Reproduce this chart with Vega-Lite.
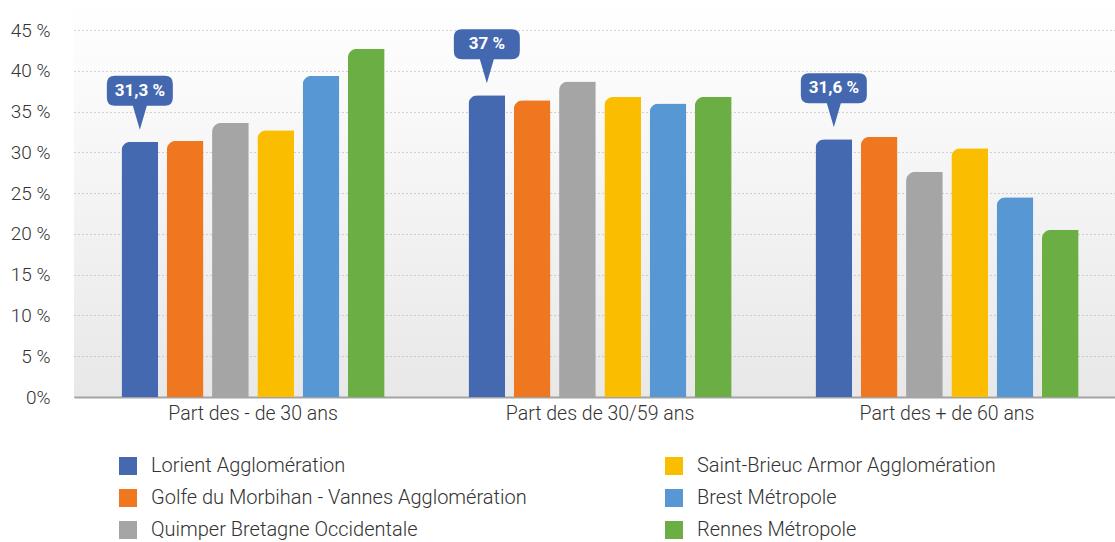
{
  "$schema": "https://vega.github.io/schema/vega-lite/v6.json",
  "width": 1041,
  "height": 397,
  "autosize": {"type": "none"},
  "padding": {"left": 74, "top": 0, "right": 0, "bottom": 145},
  "background": "#ffffff",
  "config": {
    "font": "Roboto",
    "view": {
      "stroke": null,
      "fill": {"gradient": "linear", "x1": 0, "y1": 0, "x2": 0, "y2": 1, "stops": [{"offset": 0, "color": "#ffffff"}, {"offset": 1, "color": "#e8e8e8"}]}
    }
  },
  "data": {
    "values": [
      {"group": "Part des - de 30 ans", "region": "Lorient Agglomération", "value": 31.3, "label": "31,3 %"},
      {"group": "Part des - de 30 ans", "region": "Golfe du Morbihan - Vannes Agglomération", "value": 31.4, "label": ""},
      {"group": "Part des - de 30 ans", "region": "Quimper Bretagne Occidentale", "value": 33.6, "label": ""},
      {"group": "Part des - de 30 ans", "region": "Saint-Brieuc Armor Agglomération", "value": 32.7, "label": ""},
      {"group": "Part des - de 30 ans", "region": "Brest Métropole", "value": 39.4, "label": ""},
      {"group": "Part des - de 30 ans", "region": "Rennes Métropole", "value": 42.7, "label": ""},
      {"group": "Part des de 30/59 ans", "region": "Lorient Agglomération", "value": 37.0, "label": "37 %"},
      {"group": "Part des de 30/59 ans", "region": "Golfe du Morbihan - Vannes Agglomération", "value": 36.4, "label": ""},
      {"group": "Part des de 30/59 ans", "region": "Quimper Bretagne Occidentale", "value": 38.7, "label": ""},
      {"group": "Part des de 30/59 ans", "region": "Saint-Brieuc Armor Agglomération", "value": 36.8, "label": ""},
      {"group": "Part des de 30/59 ans", "region": "Brest Métropole", "value": 36.0, "label": ""},
      {"group": "Part des de 30/59 ans", "region": "Rennes Métropole", "value": 36.8, "label": ""},
      {"group": "Part des + de 60 ans", "region": "Lorient Agglomération", "value": 31.6, "label": "31,6 %"},
      {"group": "Part des + de 60 ans", "region": "Golfe du Morbihan - Vannes Agglomération", "value": 31.9, "label": ""},
      {"group": "Part des + de 60 ans", "region": "Quimper Bretagne Occidentale", "value": 27.6, "label": ""},
      {"group": "Part des + de 60 ans", "region": "Saint-Brieuc Armor Agglomération", "value": 30.5, "label": ""},
      {"group": "Part des + de 60 ans", "region": "Brest Métropole", "value": 24.5, "label": ""},
      {"group": "Part des + de 60 ans", "region": "Rennes Métropole", "value": 20.5, "label": ""}
    ]
  },
  "encoding": {
    "x": {
      "field": "group",
      "type": "nominal",
      "sort": ["Part des - de 30 ans", "Part des de 30/59 ans", "Part des + de 60 ans"],
      "scale": {"paddingInner": 0.2, "paddingOuter": 0.1, "align": 0.58},
      "axis": {
        "title": null,
        "labelAngle": 0,
        "labelFontSize": 19.5,
        "labelFontWeight": 300,
        "labelColor": "#333333",
        "labelPadding": 7,
        "ticks": false,
        "domainColor": "#a3a3a3",
        "domainWidth": 2,
        "labelLimit": 400
      }
    },
    "xOffset": {
      "field": "region",
      "type": "nominal",
      "sort": ["Lorient Agglomération", "Golfe du Morbihan - Vannes Agglomération", "Quimper Bretagne Occidentale", "Saint-Brieuc Armor Agglomération", "Brest Métropole", "Rennes Métropole"],
      "scale": {"paddingInner": 0.19, "paddingOuter": 0.16}
    },
    "y": {
      "field": "value",
      "type": "quantitative",
      "scale": {"domain": [0, 48.68], "nice": false},
      "axis": {
        "title": null,
        "values": [0, 5, 10, 15, 20, 25, 30, 35, 40, 45],
        "labelExpr": "datum.value == 0 ? '0%' : datum.value + ' %'",
        "labelFontSize": 19,
        "labelFontWeight": 300,
        "labelColor": "#333333",
        "labelPadding": 24,
        "ticks": false,
        "domain": false,
        "gridColor": "#a8a8a8",
        "gridDash": [1, 3],
        "gridWidth": 1
      }
    }
  },
  "layer": [
    {
      "mark": {"type": "bar", "cornerRadiusTopLeft": 9},
      "encoding": {
        "color": {
          "field": "region",
          "type": "nominal",
          "scale": {
            "domain": ["Lorient Agglomération", "Golfe du Morbihan - Vannes Agglomération", "Quimper Bretagne Occidentale", "Saint-Brieuc Armor Agglomération", "Brest Métropole", "Rennes Métropole"],
            "range": ["#4569b0", "#ee7720", "#a5a5a6", "#fbbd00", "#5797d3", "#6bae43"]
          },
          "legend": {
            "title": null,
            "orient": "none",
            "legendX": 44,
            "legendY": 456,
            "columns": 2,
            "columnPadding": 137,
            "rowPadding": 12,
            "padding": 0,
            "symbolType": "square",
            "symbolSize": 324,
            "symbolStrokeWidth": 0,
            "labelFontSize": 20,
            "labelFontWeight": 300,
            "labelColor": "#333333",
            "labelOffset": 13,
            "labelLimit": 600
          }
        }
      }
    },
    {
      "transform": [{"filter": "datum.label != ''"}],
      "mark": {
        "type": "point",
        "shape": "M -25 -66 L 25 -66 Q 33 -66 33 -58 L 33 -44 Q 33 -36 25 -36 L 7 -36 L 0 -12 L -7 -36 L -25 -36 Q -33 -36 -33 -44 L -33 -58 Q -33 -66 -25 -66 Z",
        "size": 4,
        "filled": true,
        "opacity": 1,
        "color": "#4468b0",
        "strokeWidth": 0
      }
    },
    {
      "transform": [{"filter": "datum.label != ''"}],
      "mark": {"type": "text", "dy": -51, "color": "#ffffff", "fontWeight": "bold", "fontSize": 17, "baseline": "middle", "align": "center"},
      "encoding": {"text": {"field": "label"}}
    }
  ]
}
